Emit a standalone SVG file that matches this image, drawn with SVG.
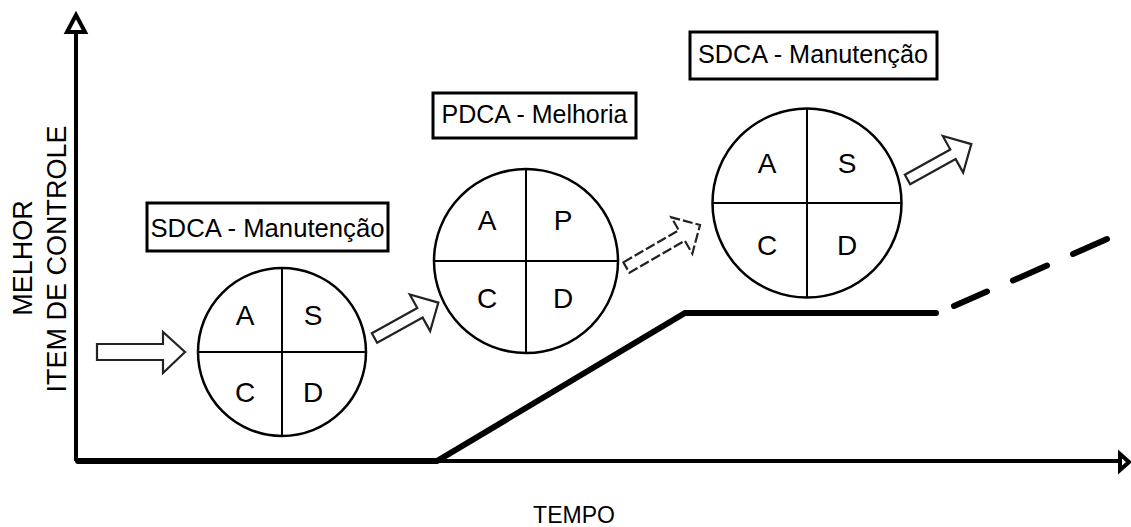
<svg xmlns="http://www.w3.org/2000/svg" width="1131" height="527" viewBox="0 0 1131 527">
<style>
.bg{fill:#fff}
.axis{stroke:#000;stroke-width:4;fill:none}
.head{fill:#fff;stroke:#000;stroke-width:4;stroke-linejoin:miter}
.trend{stroke:#000;stroke-width:6;fill:none;stroke-linecap:round;stroke-linejoin:miter}
.circ{fill:#fff;stroke:#000;stroke-width:2.5}
.div{stroke:#000;stroke-width:2}
.box{fill:#fff;stroke:#000;stroke-width:3}
.lab{font-family:"Liberation Sans",Arial,sans-serif;font-size:25px;fill:#000;text-anchor:middle}
.let{font-family:"Liberation Sans",Arial,sans-serif;font-size:28px;fill:#000;text-anchor:middle}
.ax{font-family:"Liberation Sans",Arial,sans-serif;font-size:27px;fill:#000;text-anchor:middle}
.arr{fill:#fff;stroke:#222;stroke-width:2.2;stroke-linejoin:miter}
</style>
<defs>
<path id="darrow" d="M0,-5.5 L52,-5.5 L52,-21 L73,0 L52,21 L52,5.5 L0,5.5 Z"/>
</defs>
<rect class="bg" x="0" y="0" width="1131" height="527"/>

<g id="axes">
<line class="axis" x1="76" y1="30" x2="76" y2="461"/>
<line class="axis" x1="76" y1="461" x2="1119" y2="461"/>
<polygon class="head" points="76,15 67,32 85,32"/>
<polygon class="head" points="1129,462 1120,454 1120,470"/>
<text class="ax" transform="translate(32,258) rotate(-90)">MELHOR</text>
<text class="ax" transform="translate(66,259) rotate(-90)">ITEM DE CONTROLE</text>
<text class="ax" x="574" y="523" style="font-size:23px">TEMPO</text>
</g>

<g id="connectors">
<polyline class="trend" points="78,461 437,461 685,313 936,313"/>
<line class="trend" x1="954" y1="306" x2="987" y2="291.5"/>
<line class="trend" x1="1013" y1="280.5" x2="1047" y2="265.5"/>
<line class="trend" x1="1073" y1="254" x2="1107" y2="239"/>
<polygon class="arr" points="97,344 163,344 163,332 185,352 163,373 163,360 97,360"/>
<use href="#darrow" class="arr" transform="translate(374.5,338) rotate(-29)"/>
<path class="arr" stroke-dasharray="10 3" d="M0,-6 L64,-6 L64,-21 L85,0 L64,21 L64,6 L0,6 Z" transform="translate(626.4,267.5) rotate(-30)"/>
<use href="#darrow" class="arr" transform="translate(907.5,179.5) rotate(-29)"/>
</g>

<g id="sdca1">
<rect class="box" x="147" y="203" width="241" height="48"/>
<text class="lab" x="267.5" y="237" textLength="234" lengthAdjust="spacingAndGlyphs">SDCA - Manutenção</text>
<circle class="circ" cx="282" cy="352" r="84"/>
<line class="div" x1="282" y1="268" x2="282" y2="436"/>
<line class="div" x1="198" y1="352" x2="366" y2="352"/>
<text class="let" x="245" y="325">A</text>
<text class="let" x="313" y="325">S</text>
<text class="let" x="245" y="402">C</text>
<text class="let" x="313" y="402">D</text>
</g>

<g id="pdca">
<rect class="box" x="433" y="93" width="203" height="45"/>
<text class="lab" x="534.5" y="123" textLength="186" lengthAdjust="spacingAndGlyphs">PDCA - Melhoria</text>
<circle class="circ" cx="526" cy="261" r="92"/>
<line class="div" x1="526" y1="169" x2="526" y2="353"/>
<line class="div" x1="434" y1="261" x2="618" y2="261"/>
<text class="let" x="487" y="230">A</text>
<text class="let" x="563" y="230">P</text>
<text class="let" x="487" y="308">C</text>
<text class="let" x="563" y="308">D</text>
</g>

<g id="sdca2">
<rect class="box" x="690" y="32" width="247" height="47"/>
<text class="lab" x="813" y="63" textLength="230" lengthAdjust="spacingAndGlyphs">SDCA - Manutenção</text>
<circle class="circ" cx="807" cy="203" r="94.5"/>
<line class="div" x1="807" y1="108.5" x2="807" y2="297.5"/>
<line class="div" x1="712.5" y1="203" x2="901.5" y2="203"/>
<text class="let" x="767" y="173">A</text>
<text class="let" x="847" y="173">S</text>
<text class="let" x="767" y="255">C</text>
<text class="let" x="847" y="255">D</text>
</g>
</svg>
